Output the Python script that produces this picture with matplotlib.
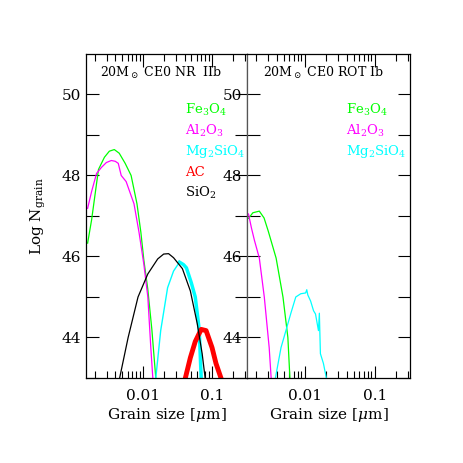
import numpy as np
import matplotlib
matplotlib.use('Agg')
import matplotlib.pyplot as plt
from matplotlib.ticker import LogLocator, NullFormatter, FixedLocator, FixedFormatter

# --- data (log10 grain size [um], Log N_grain) ---
# left panel: 20Msun CE0 NR IIb
nr_fe_x = [-2.80, -2.743, -2.643, -2.557, -2.486, -2.414, -2.343, -2.257, -2.171, -2.086, -2.03, -1.986, -1.93, -1.871, -1.814]
nr_fe_y = [46.33, 46.9, 48.15, 48.45, 48.6, 48.64, 48.55, 48.3, 48.0, 47.3, 46.6, 45.9, 45.2, 44.2, 43.0]
nr_al_x = [-2.80, -2.743, -2.671, -2.6, -2.529, -2.457, -2.4, -2.357, -2.314, -2.243, -2.129, -2.057, -1.986, -1.929, -1.886, -1.857]
nr_al_y = [47.19, 47.6, 48.05, 48.2, 48.32, 48.37, 48.35, 48.3, 48.0, 47.85, 47.3, 46.6, 45.8, 45.0, 43.75, 43.0]
nr_mg_x = [-1.814, -1.743, -1.643, -1.557, -1.471, -1.414, -1.371, -1.3, -1.243, -1.186, -1.157]
nr_mg_y = [43.0, 44.17, 45.23, 45.64, 45.86, 45.8, 45.72, 45.35, 45.0, 44.2, 43.0]
nr_ac_x = [-1.386, -1.314, -1.243, -1.157, -1.086, -1.0, -0.943, -0.871]
nr_ac_y = [43.0, 43.5, 43.9, 44.2, 44.17, 43.75, 43.36, 43.0]
nr_si_x = [-2.337, -2.214, -2.071, -1.929, -1.786, -1.7, -1.629, -1.557, -1.429, -1.314, -1.214, -1.143, -1.1]
nr_si_y = [43.0, 44.0, 45.0, 45.57, 45.94, 46.06, 46.07, 45.97, 45.7, 45.15, 44.34, 43.6, 43.0]

# right panel: 20Msun CE0 ROT Ib
rot_fe_x = [-2.803, -2.74, -2.648, -2.58, -2.521, -2.408, -2.31, -2.24, -2.211]
rot_fe_y = [46.94, 47.08, 47.12, 46.95, 46.63, 45.96, 45.0, 44.0, 43.0]
rot_al_x = [-2.803, -2.76, -2.718, -2.648, -2.577, -2.507, -2.479]
rot_al_y = [47.05, 46.7, 46.4, 45.96, 45.0, 43.75, 43.0]
rot_mg_x = [-2.418, -2.338, -2.268, -2.197, -2.127, -2.056, -1.986, -1.97, -1.955, -1.915, -1.873, -1.845, -1.803, -1.79, -1.775, -1.732, -1.69]
rot_mg_y = [43.0, 43.75, 44.17, 44.6, 45.0, 45.08, 45.1, 45.18, 45.05, 44.9, 44.66, 44.58, 44.17, 44.6, 43.6, 43.36, 43.0]

species = [r'Fe$_3$O$_4$', r'Al$_2$O$_3$', r'Mg$_2$SiO$_4$', 'AC', r'SiO$_2$']
colors = ['#00ff00', '#ff00ff', '#00ffff', '#ff0000', '#000000']

plt.rcParams['font.family'] = ['DejaVu Serif']
plt.rcParams['mathtext.fontset'] = 'dejavuserif'

fig = plt.figure(figsize=(4.63, 4.63), dpi=100)
axL = fig.add_axes([0.1857, 0.1836, 0.3477, 0.6998])
axR = fig.add_axes([0.5335, 0.1836, 0.352, 0.6998])

def p(v):
	return 10.0 ** np.array(v)

axL.plot(p(nr_fe_x), nr_fe_y, color=colors[0], lw=0.9)
axL.plot(p(nr_al_x), nr_al_y, color=colors[1], lw=0.9)
axL.plot(p(nr_mg_x[:6]), nr_mg_y[:6], color=colors[2], lw=1.0)
axL.plot(p(nr_mg_x[4:]), nr_mg_y[4:], color=colors[2], lw=2.5)
axL.plot(p(nr_ac_x), nr_ac_y, color=colors[3], lw=3.5)
axL.plot(p(nr_si_x), nr_si_y, color=colors[4], lw=0.9)

axR.plot(p(rot_fe_x), rot_fe_y, color=colors[0], lw=0.9)
axR.plot(p(rot_al_x), rot_al_y, color=colors[1], lw=0.9)
axR.plot(p(rot_mg_x), rot_mg_y, color=colors[2], lw=0.9)

for ax in (axL, axR):
	ax.set_xscale('log')
	ax.set_xlim(0.0015, 0.32)
	ax.set_ylim(43, 51)
	ax.xaxis.set_major_locator(FixedLocator([0.01, 0.1]))
	ax.xaxis.set_major_formatter(FixedFormatter(['0.01', '0.1']))
	ax.xaxis.set_minor_locator(LogLocator(base=10, subs=np.arange(2, 10)))
	ax.xaxis.set_minor_formatter(NullFormatter())
	ax.yaxis.set_major_locator(FixedLocator([44, 46, 48, 50]))
	ax.yaxis.set_minor_locator(FixedLocator([43, 45, 47, 49]))
	ax.tick_params(which='both', direction='in', top=True, right=True, labelsize=11, width=0.8)
	ax.tick_params(which='major', axis='x', length=9)
	ax.tick_params(which='minor', axis='x', length=5)
	ax.tick_params(which='both', axis='y', length=9)
	ax.tick_params(axis='x', pad=8)
	ax.set_xlabel(r'Grain size [$\mu$m]', fontsize=11, labelpad=2)
	for s in ax.spines.values():
		s.set_linewidth(0.9)

axR.spines['left'].set_color('#555555')
axL.spines['right'].set_color('#555555')
axL.set_ylabel(r'Log N$_{\rm grain}$', fontsize=11, labelpad=10)

axL.text(0.09, 0.94, r'20M$_\odot$ CE0 NR  IIb', transform=axL.transAxes, fontsize=9, va='center')
axR.text(0.10, 0.94, r'20M$_\odot$ CE0 ROT Ib', transform=axR.transAxes, fontsize=9, va='center')

for i in range(5):
	axL.text(0.615, 0.827 - i * 0.064, species[i], color=colors[i], transform=axL.transAxes, fontsize=9.5, va='center')
for i in range(3):
	axR.text(0.61, 0.827 - i * 0.064, species[i], color=colors[i], transform=axR.transAxes, fontsize=9.5, va='center')

fig.savefig('out.png', dpi=100)
